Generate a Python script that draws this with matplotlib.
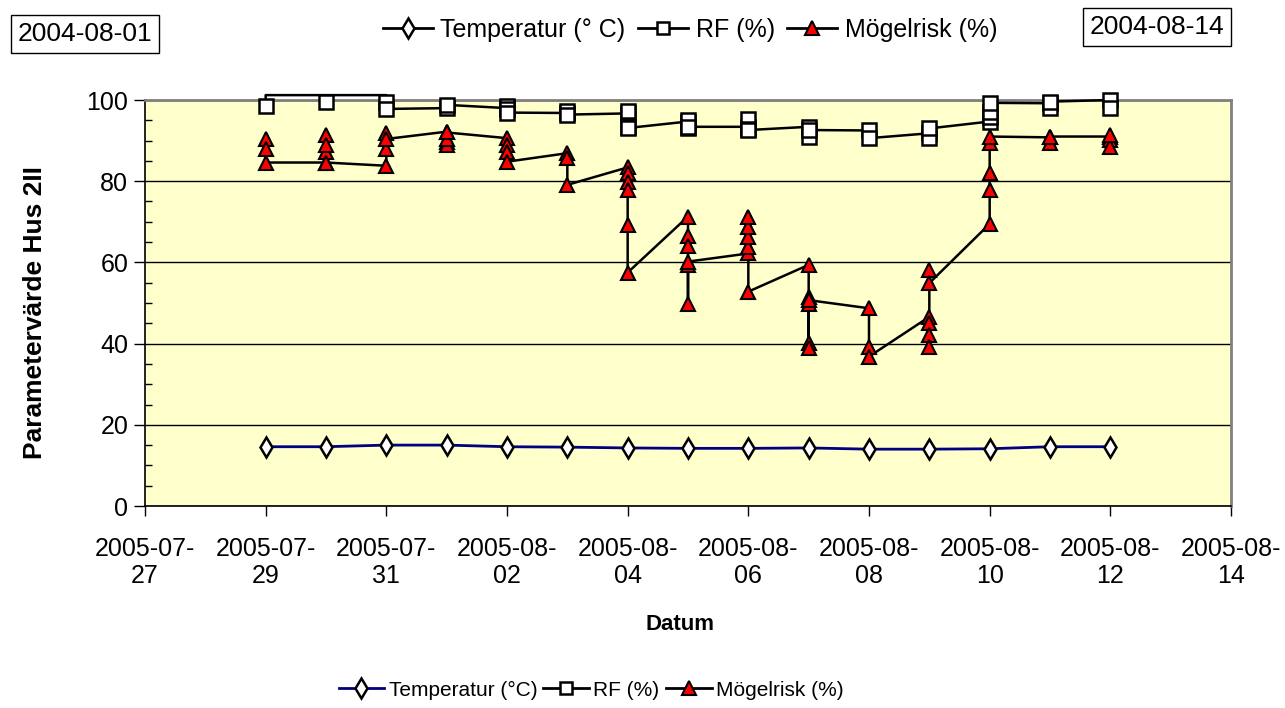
import matplotlib
matplotlib.use('Agg')
import matplotlib.pyplot as plt
import matplotlib.dates as mdates
from matplotlib.lines import Line2D
from matplotlib.ticker import FixedLocator, MultipleLocator
import numpy as np

plt.rcParams['font.family'] = ['Liberation Sans', 'DejaVu Sans']

# one group of readings per day (in reading order)
days = ['2005-07-29', '2005-07-30', '2005-07-31', '2005-08-01', '2005-08-02',
        '2005-08-03', '2005-08-04', '2005-08-05', '2005-08-06', '2005-08-07',
        '2005-08-08', '2005-08-09', '2005-08-10', '2005-08-11', '2005-08-12']

temp = [14.6, 14.6, 15.0, 15.0, 14.6, 14.5, 14.3, 14.2, 14.2, 14.3,
        14.0, 14.0, 14.1, 14.6, 14.6]

rf = [[98.6, 101.2], [101.2, 99.6, 101.2], [101.2, 99.6, 97.8], [98.0, 98.8],
      [98.0, 98.6, 97.8, 96.9], [96.8, 97.4, 96.4], [96.7, 97.2, 93.4, 93.1],
      [94.7, 95.1, 93.0, 93.4], [93.4, 95.2, 92.8, 92.6], [93.4, 91.0, 92.6],
      [92.5, 90.6], [91.8, 90.6, 93.0], [94.7, 95.9, 97.1, 99.3],
      [99.2, 98.0, 99.6], [100.0, 98.0]]

mogel = [[90.3, 87.9, 84.6], [84.6, 87.3, 91.4, 88.9, 84.6],
         [83.8, 87.9, 91.9, 90.4], [92.2, 89.6, 89.0, 90.3, 92.0],
         [90.6, 88.9, 87.3, 84.8], [86.9, 85.6, 79.1],
         [83.4, 81.9, 79.9, 77.8, 69.2, 57.5],
         [71.3, 66.5, 64.0, 59.4, 49.8, 60.2],
         [62.2, 63.9, 66.3, 68.8, 71.3, 52.8],
         [59.4, 51.6, 40.1, 38.8, 49.8, 50.7],
         [48.7, 39.2, 36.8],
         [46.6, 45.0, 42.1, 39.2, 58.1, 54.9],
         [69.5, 77.8, 82.1, 89.3, 91.0],
         [90.8, 89.3, 91.0],
         [91.0, 90.1, 88.5, 91.4]]

x_ticks = ['2005-07-27', '2005-07-29', '2005-07-31', '2005-08-02', '2005-08-04',
           '2005-08-06', '2005-08-08', '2005-08-10', '2005-08-12', '2005-08-14']


def flatten(groups):
    xs, ys = [], []
    for d, vals in zip(days, groups):
        for v in vals:
            xs.append(mdates.datestr2num(d))
            ys.append(v)
    return np.array(xs), np.array(ys)


fig = plt.figure(figsize=(12.85, 7.08), dpi=100)
ax = fig.add_axes([145 / 1285, 1 - 506 / 708, (1231 - 145) / 1285, (506 - 100) / 708])
ax.set_facecolor('#FFFFCC')

xt = mdates.datestr2num(days)
ax.plot(xt, temp, color='#000080', lw=2, marker='d', ms=10, mfc='white',
        mec='black', mew=1.8, zorder=4)

xr, yr = flatten(rf)
ax.plot(xr, yr, color='black', lw=1.8, clip_on=False, zorder=3)
ax.plot(xr, np.where(yr <= 100, yr, np.nan), ls='none', marker='s', ms=10,
        mfc='white', mec='black', mew=1.8, clip_on=False, zorder=4)

xm, ym = flatten(mogel)
ax.plot(xm, ym, color='black', lw=1.8, marker='^', ms=10, mfc='red',
        mec='black', mew=1.5, zorder=5)

ticks = mdates.datestr2num(x_ticks)
ax.set_xlim(ticks[0], ticks[-1])
ax.set_ylim(0, 100)
ax.xaxis.set_major_locator(FixedLocator(ticks))
ax.set_xticklabels([t[:8] + '\n' + t[8:] for t in x_ticks], fontsize=18,
                   linespacing=1.2)
ax.yaxis.set_major_locator(MultipleLocator(20))
ax.yaxis.set_minor_locator(MultipleLocator(5))
ax.tick_params(axis='y', which='major', direction='out', length=8, width=1,
               labelsize=18, pad=4)
ax.tick_params(axis='y', which='minor', direction='in', length=5, width=1)
ax.tick_params(axis='x', which='major', direction='out', length=7, width=1, pad=15)

ax.set_axisbelow(True)
ax.yaxis.grid(True, color='black', lw=1)
for s in ['top', 'right']:
    ax.spines[s].set_color('#808080')
    ax.spines[s].set_linewidth(2)
for s in ['left', 'bottom']:
    ax.spines[s].set_color('black')
    ax.spines[s].set_linewidth(1.2)

fig.text(35 / 1285, 1 - 313 / 708, 'Parametervärde Hus 2II', rotation=90,
         ha='center', va='center', fontsize=19, fontweight='bold')
fig.text(680 / 1285, 1 - 625 / 708, 'Datum', ha='center', va='center',
         fontsize=16, fontweight='bold')

box = dict(boxstyle='square,pad=0.25', fc='white', ec='black', lw=1)
fig.text(85 / 1285, 1 - 34 / 708, '2004-08-01', ha='center', va='center',
         fontsize=19, bbox=box)
fig.text(1157 / 1285, 1 - 27 / 708, '2004-08-14', ha='center', va='center',
         fontsize=19, bbox=box)

labels_top = ['Temperatur (° C)', 'RF (%)', 'Mögelrisk (%)']
labels_bot = ['Temperatur (°C)', 'RF (%)', 'Mögelrisk (%)']


def handles(tcolor):
    return [Line2D([], [], color=tcolor, lw=2, marker='d', ms=10, mfc='white', mec='black', mew=1.8),
            Line2D([], [], color='black', lw=2, marker='s', ms=9, mfc='white', mec='black', mew=1.8),
            Line2D([], [], color='black', lw=2, marker='^', ms=10, mfc='red', mec='black', mew=1.5)]


fig.legend(handles('black'), labels_top, loc='center', bbox_to_anchor=(690 / 1285, 1 - 30 / 708),
           ncol=3, frameon=False, fontsize=18, handlelength=2.0, handletextpad=0.3,
           columnspacing=0.5)
fig.legend(handles('#000080'), labels_bot, loc='center', bbox_to_anchor=(591 / 1285, 1 - 690 / 708),
           ncol=3, frameon=False, fontsize=15, handlelength=2.2, handletextpad=0.2,
           columnspacing=0.3)

fig.savefig('out.png', dpi=100)
